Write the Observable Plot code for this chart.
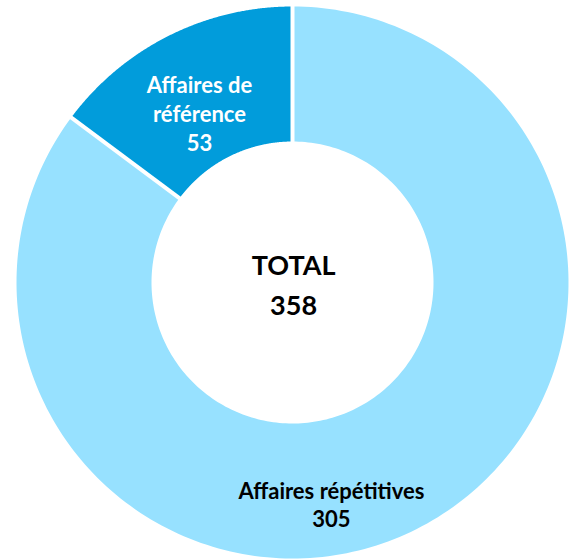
<!DOCTYPE html>
<html>
<head>
<meta charset="utf-8">
<script src="https://cdn.jsdelivr.net/npm/d3@7"></script>
<script src="https://cdn.jsdelivr.net/npm/@observablehq/plot@0.6"></script>
<style>
  html, body { margin: 0; padding: 0; background: #fff; }
  svg { display: block; }
</style>
</head>
<body>
<div id="chart"></div>
<script>
// ---- data ----
const categories = ["Affaires répétitives", "Affaires de référence"];
const values = [305, 53];
const colors = ["#97E1FF", "#019CDB"];
const labelColors = ["#000000", "#FFFFFF"];
const totalTitle = "TOTAL";

// ---- layout (normalized radius units, outer radius = 1) ----
const innerRatio = 141 / 276;
const labelPos = [
  {x: 0.141, y: -0.804, size: 22, lh: 1.27},
  {x: -0.337, y: 0.616, size: 22, lh: 1.32}
];

const total = d3.sum(values);
const arcs = d3.pie().sort(null).value(d => d)(values);

// polygon points for each slice
const pts = [];
arcs.forEach((a, i) => {
  const n = 240;
  for (let k = 0; k <= n; k++) {
    const t = a.startAngle + (a.endAngle - a.startAngle) * k / n;
    pts.push({cat: categories[i], x: Math.sin(t), y: Math.cos(t)});
  }
  for (let k = n; k >= 0; k--) {
    const t = a.startAngle + (a.endAngle - a.startAngle) * k / n;
    pts.push({cat: categories[i], x: innerRatio * Math.sin(t), y: innerRatio * Math.cos(t)});
  }
});

// separators at slice boundaries
const seps = arcs.map(a => ({
  x1: innerRatio * Math.sin(a.startAngle) * 0.98, y1: innerRatio * Math.cos(a.startAngle) * 0.98,
  x2: Math.sin(a.startAngle) * 1.01, y2: Math.cos(a.startAngle) * 1.01
}));

const labels = categories.map((c, i) => ({
  text: `${c.replace("Affaires de ", "Affaires de\n")}\n${values[i]}`,
  ...labelPos[i], fill: labelColors[i]
}));

const font = "Lato, 'Open Sans', sans-serif";

const chart = Plot.plot({
  width: 569,
  height: 560,
  marginLeft: 16,
  marginRight: 1,
  marginTop: 6,
  marginBottom: 2,
  x: {domain: [-1, 1], axis: null},
  y: {domain: [-1, 1], axis: null},
  color: {domain: categories, range: colors},
  style: {fontFamily: font},
  marks: [
    Plot.line(pts, {x: "x", y: "y", z: "cat", fill: "cat", stroke: "none", curve: "linear-closed"}),
    Plot.link(seps, {x1: "x1", y1: "y1", x2: "x2", y2: "y2", stroke: "white", strokeWidth: 4}),
    ...labels.map(l => Plot.text([l], {
      x: "x", y: "y", text: "text", fill: l.fill,
      fontSize: l.size, fontWeight: "bold", lineHeight: l.lh, fontFamily: font
    })),
    Plot.text([`${totalTitle}\n${total}`], {
      x: () => 0.004, y: () => 0, text: d => d, fill: "black",
      fontSize: 27, fontWeight: "bold", lineHeight: 1.48, fontFamily: font
    })
  ]
});
document.getElementById("chart").append(chart);
</script>
</body>
</html>
